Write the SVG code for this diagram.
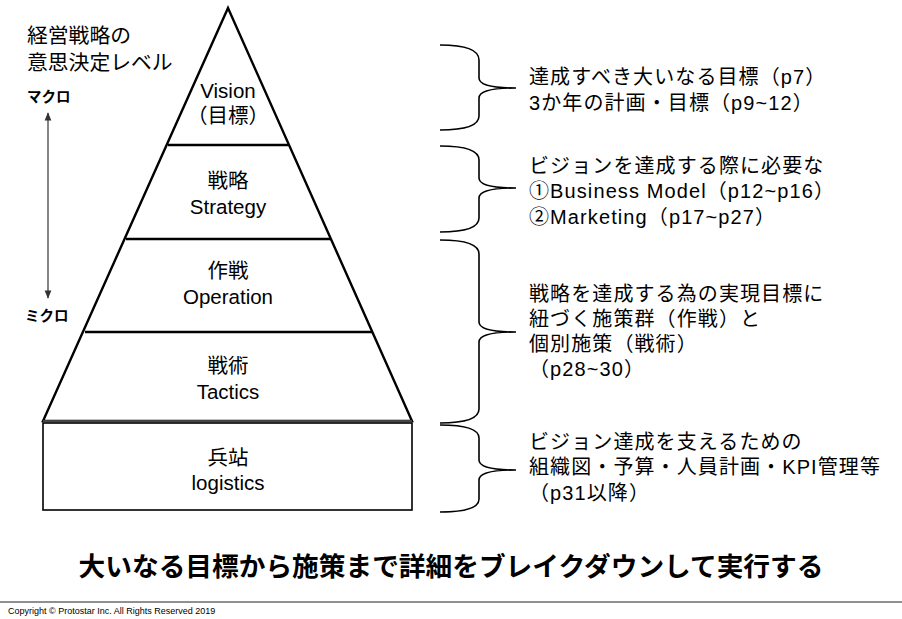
<svg xmlns="http://www.w3.org/2000/svg" width="902" height="619" viewBox="0 0 902 619">
  <style>
    text { font-family: "Liberation Sans", "Noto Sans CJK JP", sans-serif; fill: #000; }
    .lvl { font-size: 20.5px; text-anchor: middle; }
    .note { font-size: 20px; letter-spacing: 1.1px; }
    .side { font-size: 20.8px; }
    .mm { font-size: 14.5px; font-weight: bold; }
    .edge { stroke: #000; stroke-width: 2.4; fill: none; }
    .brace { stroke: #000; stroke-width: 1.6; fill: none; }
  </style>
  <defs>
    <marker id="ah" viewBox="0 0 10 10" refX="9" refY="5" markerWidth="7" markerHeight="7" orient="auto-start-reverse">
      <path d="M0,1 L10,5 L0,9 Z" fill="#333"/>
    </marker>
  </defs>

  <rect width="902" height="619" fill="#fff"/>

  <!-- side caption -->
  <g id="caption">
    <text class="side" x="27" y="43">経営戦略の</text>
    <text class="side" x="27" y="70">意思決定レベル</text>
    <text class="mm" x="27" y="102">マクロ</text>
    <text class="mm" x="25" y="321">ミクロ</text>
  </g>

  <!-- pyramid layers -->
  <g id="pyramid">
    <polygon class="edge" points="228,8 412,421 43,421" stroke-linejoin="miter"/>
  </g>
  <g id="vision">
    <text class="lvl" x="228" y="98">Vision</text>
    <text class="lvl" x="228" y="123">（目標）</text>
  </g>
  <g id="strategy">
    <line class="edge" x1="168" y1="145" x2="289" y2="145"/>
    <text class="lvl" x="228" y="188">戦略</text>
    <text class="lvl" x="228" y="214">Strategy</text>
  </g>
  <g id="operation">
    <line class="edge" x1="126" y1="239" x2="331" y2="239"/>
    <text class="lvl" x="228" y="278">作戦</text>
    <text class="lvl" x="228" y="304">Operation</text>
  </g>
  <g id="tactics">
    <line class="edge" x1="85" y1="332" x2="372" y2="332"/>
    <text class="lvl" x="228" y="373">戦術</text>
    <text class="lvl" x="228" y="399">Tactics</text>
  </g>
  <g id="logistics">
    <rect x="43" y="423" width="369" height="87" fill="none" stroke="#000" stroke-width="1.6"/>
    <line x1="43" y1="421" x2="412" y2="421" stroke="#888" stroke-width="1"/>
    <text class="lvl" x="228" y="465">兵站</text>
    <text class="lvl" x="228" y="490">logistics</text>
  </g>

  <!-- connectors: scale arrow and braces -->
  <g id="connectors">
    <line x1="48" y1="113" x2="48" y2="298" stroke="#333" stroke-width="1.2" marker-start="url(#ah)" marker-end="url(#ah)"/>
    <path class="brace" d="M440,45 Q479,45 479,60 L479,78 Q479,88 516,88 Q479,88 479,98 L479,116 Q479,130 440,130"/>
    <path class="brace" d="M440,146 Q479,146 479,160 L479,178 Q479,188 516,188 Q479,188 479,198 L479,218 Q479,232 440,232"/>
    <path class="brace" d="M440,240 Q479,240 479,254 L479,322 Q479,332 516,332 Q479,332 479,342 L479,409 Q479,423 440,423"/>
    <path class="brace" d="M440,425 Q479,425 479,438 L479,460 Q479,470 516,470 Q479,470 479,480 L479,499 Q479,512 440,512"/>
  </g>

  <!-- notes -->
  <g id="note-vision">
    <text class="note" x="529" y="84">達成すべき大いなる目標（p7）</text>
    <text class="note" x="529" y="110">3か年の計画・目標（p9~12）</text>
  </g>
  <g id="note-strategy">
    <text class="note" x="529" y="173">ビジョンを達成する際に必要な</text>
    <text class="note" x="529" y="198">①Business Model（p12~p16）</text>
    <text class="note" x="529" y="224">②Marketing（p17~p27）</text>
  </g>
  <g id="note-operation">
    <text class="note" x="529" y="301">戦略を達成する為の実現目標に</text>
    <text class="note" x="529" y="326">紐づく施策群（作戦）と</text>
    <text class="note" x="529" y="351">個別施策（戦術）</text>
    <text class="note" x="529" y="376">（p28~30）</text>
  </g>
  <g id="note-logistics">
    <text class="note" x="529" y="449">ビジョン達成を支えるための</text>
    <text class="note" x="529" y="474">組織図・予算・人員計画・KPI管理等</text>
    <text class="note" x="529" y="500">（p31以降）</text>
  </g>

  <!-- headline -->
  <g id="headline">
    <text x="451" y="576" text-anchor="middle" font-size="26.7" font-weight="bold">大いなる目標から施策まで詳細をブレイクダウンして実行する</text>
  </g>

  <!-- footer -->
  <g id="footer">
    <line x1="0" y1="602" x2="902" y2="602" stroke="#222" stroke-width="1.2"/>
    <text x="8" y="614" font-size="9">Copyright © Protostar Inc. All Rights Reserved 2019</text>
  </g>
</svg>
